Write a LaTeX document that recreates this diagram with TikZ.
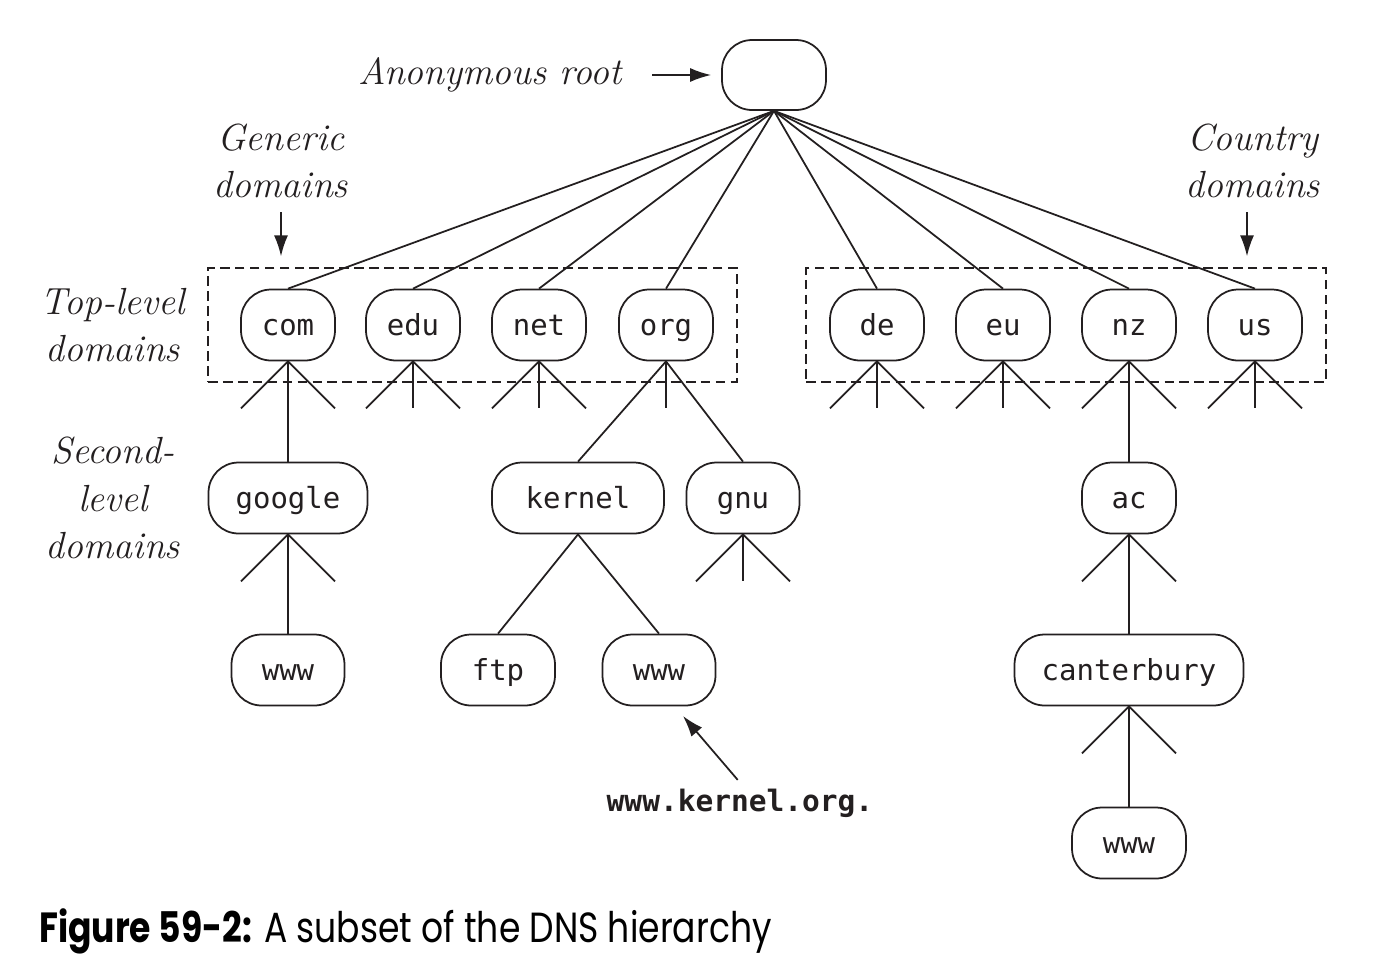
\documentclass[tikz,border=0pt]{standalone}
\usepackage{fontspec}
\setmonofont{DejaVu Sans Mono}
\newfontfamily\capfont{Poppins}
\usetikzlibrary{arrows.meta,fit}
\definecolor{ink}{HTML}{231F20}
\tikzset{
  dom/.style={draw=ink, line width=1pt, rounded corners=0.6cm, minimum width=1.88cm,
    minimum height=1.42cm, inner sep=0pt, text height=14.5pt, text depth=2.5pt,
    text=ink, font=\ttfamily\fontsize{16.5}{20}\selectfont},
  lbl/.style={align=center, text=ink, font=\itshape\fontsize{21.5}{27}\selectfont},
  edge/.style={draw=ink, line width=1pt},
  ptr/.style={edge, -{Latex[length=0.42cm,width=0.28cm]}},
  grp/.style={draw=ink, dash pattern=on 5.5pt off 3pt, line width=0.9pt, inner xsep=0.46cm, inner ysep=0.41cm},
}
\begin{document}
\begin{tikzpicture}[x=0.02cm,y=-0.02cm]
\useasboundingbox[fill=white] (0,0) rectangle (1384,968);

% root and top-level domains
\node[dom, minimum width=2.08cm, minimum height=1.4cm] (root) at (774,75) {};
\node[dom] (com) at (288,325) {com};
\node[dom] (edu) at (413,325) {edu};
\node[dom] (net) at (539,325) {net};
\node[dom] (org) at (666,325) {org};
\node[dom] (de) at (877,325) {de};
\node[dom] (eu) at (1003,325) {eu};
\node[dom] (nz) at (1129,325) {nz};
\node[dom] (us) at (1255,325) {us};

% second level and below
\node[dom, minimum width=3.18cm] (google) at (288,498) {google};
\node[dom, minimum width=3.44cm] (kernel) at (578,498) {kernel};
\node[dom, minimum width=2.26cm] (gnu) at (743,498) {gnu};
\node[dom] (ac) at (1129,498) {ac};
\node[dom, minimum width=2.26cm] (wwwg) at (288,670) {www};
\node[dom, minimum width=2.28cm] (ftp) at (498,670) {ftp};
\node[dom, minimum width=2.26cm] (wwwk) at (659,670) {www};
\node[dom, minimum width=4.58cm] (cant) at (1129,670) {canterbury};
\node[dom, minimum width=2.28cm] (wwwc) at (1129,843) {www};

% dashed groups
\coordinate (genleft) at (231,325);
\node[grp, fit=(genleft)(com)(org)] (generic) {};
\node[grp, fit=(de)(us)] (country) {};

% labels
\node[lbl] (anon) at (490,75) {Anonymous root};
\node[lbl] (gen) at (281,161) {Generic\\domains};
\node[lbl] (ctry) at (1253,161) {Country\\domains};
\node[lbl] (top) at (113,325) {Top-level\\domains};
\node[lbl] (sec) at (113,498) {Second-\\level\\domains};
\node[text=ink, font=\ttfamily\bfseries\fontsize{16.8}{20}\selectfont] (url) at (740,803) {www.kernel.org.};
\coordinate (urltip) at (683,716);
\coordinate (genarr) at (281,212);
\coordinate (ctryarr) at (1247,212);

% edges from the root
\foreach \t in {com,edu,net,org,de,eu,nz,us}
  \draw[edge] (root.south) -- (\t.north);

% edges between domains
\draw[edge] (com.south) -- (google.north);
\draw[edge] (google.south) -- (wwwg.north);
\draw[edge] (org.south) -- (kernel.north);
\draw[edge] (org.south) -- (gnu.north);
\draw[edge] (kernel.south) -- (ftp.north);
\draw[edge] (kernel.south) -- (wwwk.north);
\draw[edge] (nz.south) -- (ac.north);
\draw[edge] (ac.south) -- (cant.north);
\draw[edge] (cant.south) -- (wwwc.north);

% stubs for the rest of the tree
\foreach \n in {com,edu,net,de,eu,nz,us,google,gnu,ac,cant}
  \draw[edge] (\n.south) -- ++(-47,47) (\n.south) -- ++(47,47);
\foreach \n in {edu,net,org,de,eu,us,gnu}
  \draw[edge] (\n.south) -- ++(0,47);

% pointers
\draw[ptr, shorten <=14, shorten >=0.2cm] (anon.east) -- (root.west);
\draw[ptr, shorten >=0.22cm] (genarr) -- (genarr |- generic.north);
\draw[ptr, shorten >=0.22cm] (ctryarr) -- (ctryarr |- country.north);
\draw[ptr, shorten <=2] (url.north) -- (urltip);

% caption
\node[anchor=base west, text=black, font=\capfont\fontsize{24}{28}\selectfont] (cap) at (33,942)
  {\scalebox{0.82}[1]{\textbf{Figure 59-2:} A subset of the DNS hierarchy}};
\end{tikzpicture}
\end{document}
